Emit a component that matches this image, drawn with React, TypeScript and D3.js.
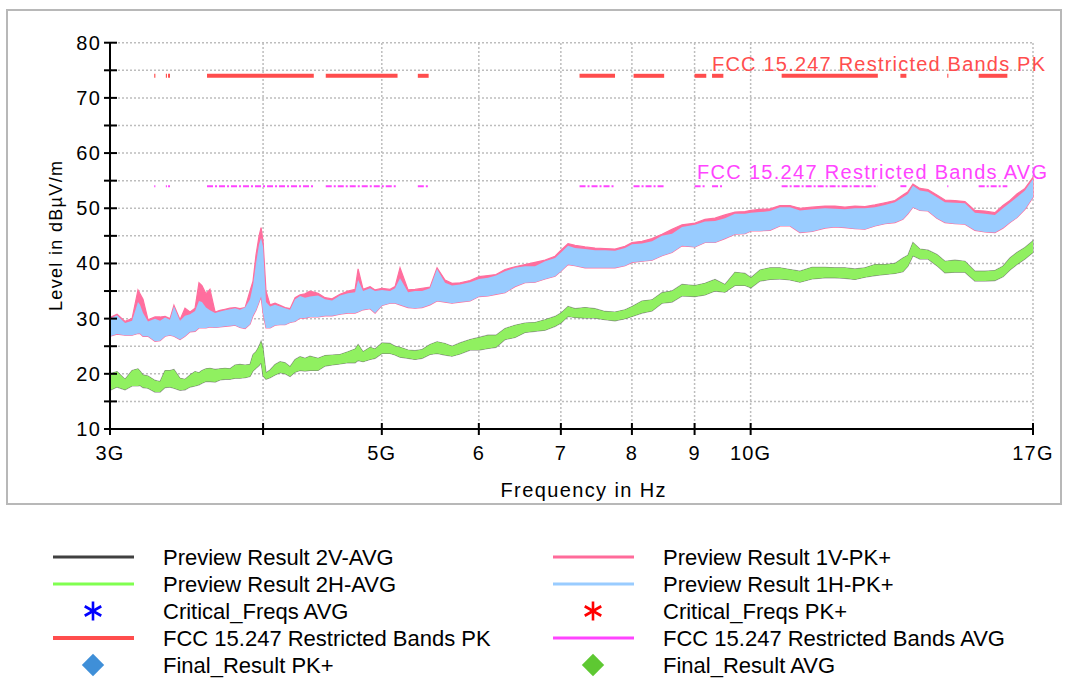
import React from 'react';
import * as d3 from 'd3';

// frequency grid (GHz) the traces were read at
const freqGHz = [
  3.000, 3.040, 3.086, 3.127, 3.162, 3.174, 3.192, 3.222, 3.265, 3.296,
  3.327, 3.358, 3.383, 3.422, 3.454, 3.487, 3.520, 3.546, 3.566, 3.593,
  3.620, 3.655, 3.689, 3.724, 3.759, 3.795, 3.830, 3.867, 3.903, 3.925,
  3.947, 3.970, 3.985, 4.000, 4.022, 4.053, 4.091, 4.130, 4.169, 4.208,
  4.248, 4.288, 4.328, 4.369, 4.435, 4.494, 4.554, 4.622, 4.692, 4.755,
  4.782, 4.827, 4.891, 4.937, 5.002, 5.078, 5.126, 5.174, 5.253, 5.322,
  5.393, 5.474, 5.547, 5.631, 5.705, 5.792, 5.902, 6.002, 6.105, 6.197,
  6.303, 6.422, 6.544, 6.668, 6.795, 6.924, 7.002, 7.095, 7.189, 7.325,
  7.464, 7.606, 7.750, 7.897, 8.002, 8.153, 8.308, 8.465, 8.626, 8.790,
  9.007, 9.178, 9.352, 9.529, 9.710, 9.894, 10.006, 10.177, 10.370, 10.567,
  10.767, 10.971, 11.222, 11.499, 11.717, 11.939, 12.166, 12.396, 12.631, 12.871,
  13.115, 13.313, 13.439, 13.566, 13.746, 13.954, 14.192, 14.407, 14.680, 14.959,
  15.242, 15.531, 15.826, 16.066, 16.279, 16.494, 16.745, 17.000
];

// Preview Result 1V-PK+ (upper envelope)
const pk1VHi = [
  30.2, 30.8, 29.5, 30.0, 35.2, 34.5, 33.5, 29.8, 30.3, 30.3,
  30.4, 30.0, 32.4, 29.8, 31.9, 31.2, 31.9, 36.5, 36.0, 34.5,
  35.3, 31.2, 31.5, 31.7, 31.9, 32.0, 31.8, 32.0, 35.0, 36.8,
  41.5, 45.0, 46.5, 44.0, 35.0, 32.5, 32.8, 32.4, 32.0, 31.8,
  33.8, 34.3, 34.5, 35.0, 34.6, 33.8, 33.6, 34.4, 35.0, 35.3,
  39.0, 35.3, 35.8, 35.2, 35.5, 35.3, 35.8, 39.2, 35.2, 35.3,
  35.5, 35.7, 39.2, 37.0, 36.4, 36.5, 36.9, 37.6, 37.8, 38.0,
  38.9, 39.4, 39.8, 40.2, 40.6, 41.3, 42.4, 43.6, 43.3, 43.0,
  42.8, 42.7, 42.6, 43.1, 43.8, 44.0, 44.5, 45.3, 46.2, 47.0,
  47.3, 48.0, 48.2, 48.8, 49.3, 49.4, 49.6, 49.8, 49.9, 50.5,
  50.5, 50.0, 50.2, 50.4, 50.4, 50.2, 50.4, 50.3, 50.6, 51.0,
  51.4, 52.4, 53.0, 54.4, 53.6, 53.4, 52.4, 51.5, 51.4, 51.2,
  49.6, 49.5, 49.2, 50.5, 51.4, 52.6, 53.6, 55.6
];

// Preview Result 1H-PK+ (upper / lower envelope)
const pk1HHi = [
  30.0, 30.6, 29.2, 29.6, 33.0, 32.5, 31.0, 29.5, 30.0, 29.6,
  30.2, 29.8, 32.2, 29.6, 30.5, 30.8, 31.4, 33.2, 33.0, 32.0,
  31.5, 31.0, 31.3, 31.5, 31.7, 31.9, 31.6, 32.0, 33.5, 36.0,
  40.0, 43.5, 44.6, 43.0, 33.0, 32.2, 32.5, 32.2, 31.9, 31.6,
  33.5, 34.1, 33.8, 34.0, 34.2, 33.5, 33.3, 34.2, 34.6, 34.8,
  37.0, 35.0, 35.5, 35.0, 35.2, 35.0, 35.5, 37.3, 34.8, 35.0,
  35.0, 35.5, 39.0, 36.5, 36.0, 36.2, 36.6, 37.2, 37.4, 37.8,
  38.6, 39.2, 39.5, 39.5, 40.4, 41.0, 42.0, 43.2, 42.8, 42.6,
  42.4, 42.4, 42.3, 42.8, 43.5, 43.6, 44.0, 45.0, 45.4, 46.6,
  47.0, 47.6, 47.7, 48.2, 49.0, 49.0, 49.2, 49.3, 49.5, 50.2,
  50.2, 49.6, 49.8, 50.0, 49.9, 49.8, 50.0, 50.0, 50.2, 50.6,
  51.1, 52.0, 52.6, 54.1, 53.2, 53.0, 52.0, 51.1, 51.0, 50.9,
  49.2, 49.0, 48.8, 50.0, 51.0, 52.0, 53.2, 55.3
];
const pk1HLo = [
  26.8, 27.2, 27.0, 27.0, 27.3, 27.3, 26.8, 26.8, 25.9, 26.0,
  26.8, 27.0, 26.8, 26.2, 26.8, 27.6, 27.7, 28.3, 28.3, 28.3,
  28.5, 28.4, 28.5, 28.6, 28.7, 28.8, 28.4, 28.2, 29.0, 30.5,
  31.5, 33.0, 34.0, 31.0, 28.3, 28.3, 28.8, 28.9, 28.9, 29.3,
  29.5, 30.1, 30.1, 30.3, 30.3, 30.5, 30.5, 30.8, 31.0, 31.0,
  31.2, 31.6, 31.8, 31.0, 32.4, 32.8, 32.8, 32.5, 32.0, 31.9,
  32.0, 32.5, 33.2, 33.0, 32.8, 33.0, 33.2, 34.0, 34.1, 34.4,
  34.7, 35.8, 36.5, 36.6, 37.2, 37.7, 38.6, 39.8, 39.6, 39.2,
  39.2, 39.2, 39.2, 39.6, 40.2, 40.4, 40.6, 41.4, 42.0, 43.2,
  43.0, 43.8, 43.8, 44.5, 45.3, 45.4, 45.9, 45.9, 46.0, 46.8,
  46.8, 45.6, 45.8, 46.4, 46.6, 46.5, 46.3, 46.2, 46.8, 47.2,
  47.4, 48.0, 49.0, 50.2, 49.6, 49.5, 48.2, 47.4, 47.2, 47.1,
  46.0, 45.7, 45.6, 46.4, 47.4, 48.3, 49.8, 52.0
];

// Preview Result 2H-AVG (upper / lower envelope); 2V-AVG lies under it
const avg2HHi = [
  20.0, 20.4, 19.0, 20.6, 20.9, 20.5, 19.8, 19.6, 18.8, 18.6,
  20.6, 20.6, 20.8, 19.2, 19.0, 19.8, 20.4, 20.2, 20.6, 20.9,
  21.0, 20.8, 20.9, 21.0, 20.9, 21.6, 21.7, 21.6, 21.7, 23.5,
  24.0, 25.0, 25.9, 24.5, 20.2, 20.7, 21.7, 22.2, 22.0, 21.3,
  22.6, 23.1, 22.8, 23.2, 22.8, 23.3, 23.4, 23.5, 24.0, 24.5,
  25.3, 24.0, 24.8, 24.5, 25.6, 25.5, 25.0, 24.8, 24.3, 24.2,
  24.4, 25.3, 25.8, 25.5, 25.0, 25.6, 26.2, 26.6, 27.0, 27.0,
  28.2, 28.8, 29.2, 29.3, 29.8, 30.4, 31.0, 32.2, 31.8, 32.0,
  31.8, 31.3, 31.2, 31.6, 32.2, 33.2, 33.4, 34.7, 35.0, 36.2,
  36.0, 36.4, 37.1, 36.2, 38.4, 38.2, 37.4, 38.8, 39.2, 39.2,
  38.9, 38.6, 39.3, 39.3, 39.2, 39.2, 39.0, 39.2, 39.8, 39.8,
  40.0, 41.0, 41.5, 43.8, 42.6, 42.4, 41.6, 40.4, 40.6, 40.4,
  38.6, 38.6, 38.7, 39.5, 41.0, 42.0, 42.9, 44.1
];
const avg2HLo = [
  17.0, 17.6, 17.1, 17.8, 17.8, 17.9, 17.5, 17.4, 16.7, 16.7,
  17.5, 17.6, 17.4, 17.0, 17.1, 17.6, 17.8, 18.0, 18.3, 18.6,
  18.6, 18.5, 18.9, 19.0, 19.0, 19.2, 19.2, 19.3, 19.5, 20.5,
  21.0, 21.5, 22.0, 19.6, 19.0, 19.3, 19.8, 20.2, 20.0, 19.5,
  20.3, 20.6, 20.5, 20.6, 20.6, 21.4, 21.6, 21.8, 22.0, 22.0,
  22.4, 22.2, 22.6, 22.8, 23.7, 23.7, 23.4, 23.0, 22.8, 22.6,
  22.8, 23.5, 23.7, 23.4, 23.2, 23.6, 24.3, 24.3, 24.6, 24.8,
  26.2, 26.6, 27.5, 27.7, 27.9, 28.6, 29.2, 30.4, 30.2, 30.1,
  30.1, 29.8, 29.6, 30.0, 30.4, 31.0, 31.4, 32.8, 33.0, 34.1,
  34.0, 34.3, 35.0, 34.8, 36.0, 36.0, 35.6, 36.8, 37.1, 37.2,
  37.0, 36.6, 37.2, 37.4, 37.4, 37.3, 37.1, 37.5, 37.8, 38.0,
  38.2, 38.5, 39.5, 41.4, 40.8, 40.8, 39.6, 38.3, 38.4, 38.4,
  36.8, 36.8, 36.9, 37.6, 38.8, 39.8, 40.8, 42.0
];

// FCC 15.205 restricted bands inside 3..17 GHz
const bandStart = [3.26, 3.332, 3.3458, 3.6, 4.5, 5.35, 7.25, 8.025, 9.0, 9.3, 10.6, 13.25, 14.47, 15.35];
const bandEnd = [3.267, 3.339, 3.358, 4.4, 5.15, 5.46, 7.75, 8.5, 9.2, 9.5, 12.7, 13.4, 14.5, 16.2];
const limitPK = 74;
const limitAVG = 54;

const xTicks = [3, 4, 5, 6, 7, 8, 9, 10, 17];
const xTickLabels = ['3G', '', '5G', '6', '7', '8', '9', '10G', '17G'];
const xGrid = [4, 5, 6, 7, 8, 9, 10, 17];
const yMajor = [10, 20, 30, 40, 50, 60, 70, 80];
const yAll = [10, 15, 20, 25, 30, 35, 40, 45, 50, 55, 60, 65, 70, 75, 80];

const legendLeft = [
  { name: 'Preview Result 2V-AVG', kind: 'line', color: '#404040', w: 3 },
  { name: 'Preview Result 2H-AVG', kind: 'line', color: '#80ff50', w: 3 },
  { name: 'Critical_Freqs AVG', kind: 'star', color: '#0000ff', w: 2 },
  { name: 'FCC 15.247 Restricted Bands PK', kind: 'line', color: '#ff4d4d', w: 4 },
  { name: 'Final_Result PK+', kind: 'diamond', color: '#3f8fd8', w: 0 }
];
const legendRight = [
  { name: 'Preview Result 1V-PK+', kind: 'line', color: '#ff6b9a', w: 3 },
  { name: 'Preview Result 1H-PK+', kind: 'line', color: '#99ccff', w: 3 },
  { name: 'Critical_Freqs PK+', kind: 'star', color: '#ff0000', w: 2 },
  { name: 'FCC 15.247 Restricted Bands AVG', kind: 'line', color: '#ff44ff', w: 3 },
  { name: 'Final_Result AVG', kind: 'diamond', color: '#5ec832', w: 0 }
];

const FONT = 'Liberation Sans, Arial, sans-serif';

function LegendItem({ item, x0, y0 }) {
  const cx = x0 + 40;
  let sym = null;
  if (item.kind === 'line') {
    sym = <line x1={x0} x2={x0 + 81} y1={y0} y2={y0} stroke={item.color} strokeWidth={item.w} />;
  } else if (item.kind === 'star') {
    const r = 9.5;
    sym = (
      <g stroke={item.color} strokeWidth={2.6}>
        <line x1={cx} x2={cx} y1={y0 - r} y2={y0 + r} />
        <line x1={cx - r * 0.87} x2={cx + r * 0.87} y1={y0 - r * 0.5} y2={y0 + r * 0.5} />
        <line x1={cx - r * 0.87} x2={cx + r * 0.87} y1={y0 + r * 0.5} y2={y0 - r * 0.5} />
      </g>
    );
  } else {
    const s = d3.symbol(d3.symbolSquare, 250)();
    sym = <path d={s} transform={`translate(${cx},${y0}) rotate(45)`} fill={item.color} />;
  }
  return (
    <g>
      {sym}
      <text x={x0 + 110} y={y0 + 8} fontSize={22} fill="#000">{item.name}</text>
    </g>
  );
}

export default function App() {
  const x = d3.scaleLog().domain([3, 17]).range([110, 1033]);
  const y = d3.scaleLinear().domain([10, 80]).range([429, 42.7]);

  const band = (hi, lo) =>
    d3.area().x((_, i) => x(freqGHz[i])).y0((_, i) => y(lo[i])).y1((_, i) => y(hi[i]))(freqGHz);

  const legendRows = [557, 584, 611, 638, 665];

  return (
    <svg width={1065} height={681} style={{ position: 'absolute', left: 0, top: 0 }} fontFamily={FONT}>
      <rect x={0} y={0} width={1065} height={681} fill="#fff" />
      <rect x={7} y={10} width={1054} height={494} fill="#fff" stroke="#b8b8b8" strokeWidth={2} />

      {/* grid */}
      <g stroke="#bdbdbd" strokeWidth={1.5} strokeDasharray="2,2">
        {yAll.filter(v => v > 10).map(v => (
          <line key={'h' + v} x1={x(3)} x2={x(17)} y1={y(v)} y2={y(v)} />
        ))}
        {xGrid.map(v => (
          <line key={'v' + v} x1={x(v)} x2={x(v)} y1={y(10)} y2={y(80)} />
        ))}
      </g>

      {/* restricted band limits */}
      <g>
        {bandStart.map((s, i) => (
          <line key={'pk' + i} x1={x(s)} x2={Math.max(x(bandEnd[i]), x(s) + 1)} y1={y(limitPK)} y2={y(limitPK)}
            stroke="#ff4d4d" strokeWidth={4} />
        ))}
        {bandStart.map((s, i) => (
          <line key={'av' + i} x1={x(s)} x2={Math.max(x(bandEnd[i]), x(s) + 1)} y1={y(limitAVG)} y2={y(limitAVG)}
            stroke="#ff44ff" strokeWidth={2} strokeDasharray="6,2,2,2" />
        ))}
      </g>
      <text x={712} y={70.5} fontSize={20} fill="#ff4d4d" textLength={333} lengthAdjust="spacing">
        FCC 15.247 Restricted Bands PK
      </text>
      <text x={697} y={179} fontSize={20} fill="#ff44ff" textLength={350} lengthAdjust="spacing">
        FCC 15.247 Restricted Bands AVG
      </text>

      {/* traces */}
      <path d={band(pk1VHi, pk1HLo)} fill="#ff6e9e" stroke="#ff6e9e" strokeWidth={1.2} />
      <path d={band(pk1HHi, pk1HLo)} fill="#99ccff" />
      <path d={band(avg2HHi, avg2HLo)} fill="#404040" stroke="#404040" strokeWidth={1.2} strokeOpacity={0.45} />
      <path d={band(avg2HHi, avg2HLo)} fill="#90f060" />

      {/* axes */}
      <g stroke="#000" strokeWidth={2}>
        <line x1={110} x2={110} y1={y(80)} y2={y(10)} />
        <line x1={110} x2={x(17)} y1={y(10)} y2={y(10)} />
        {yAll.map(v => (
          <line key={'yt' + v} x1={104} x2={117} y1={y(v)} y2={y(v)} />
        ))}
        {xTicks.map(v => (
          <line key={'xt' + v} x1={x(v)} x2={x(v)} y1={y(10) - 6} y2={y(10) + 6} />
        ))}
      </g>
      <g fontSize={20} fill="#000" letterSpacing={1.2}>
        {yMajor.map(v => (
          <text key={'yl' + v} x={101} y={y(v) + 7} textAnchor="end">{v}</text>
        ))}
        {xTicks.map((v, i) => (
          <text key={'xl' + v} x={x(v)} y={460} textAnchor="middle">{xTickLabels[i]}</text>
        ))}
      </g>
      <text x={583} y={497} fontSize={20} textAnchor="middle" textLength={165} lengthAdjust="spacing">
        Frequency in Hz
      </text>
      <text transform="translate(62,236) rotate(-90)" fontSize={18} textAnchor="middle" textLength={150}
        lengthAdjust="spacing">
        Level in dBµV/m
      </text>

      {/* legend */}
      {legendLeft.map((it, i) => (
        <LegendItem key={'ll' + i} item={it} x0={53} y0={legendRows[i]} />
      ))}
      {legendRight.map((it, i) => (
        <LegendItem key={'lr' + i} item={it} x0={553} y0={legendRows[i]} />
      ))}
    </svg>
  );
}
